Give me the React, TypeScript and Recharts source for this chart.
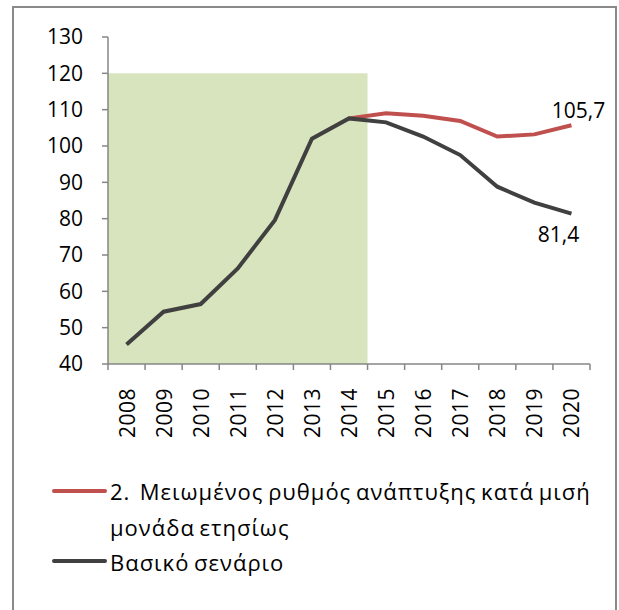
import React from "react";
import {
  LineChart,
  Line,
  XAxis,
  YAxis,
  ReferenceArea,
  Legend,
} from "recharts";

const years = ["2008", "2009", "2010", "2011", "2012", "2013", "2014", "2015", "2016", "2017", "2018", "2019", "2020"];
const baseScenario = [45.4, 54.4, 56.5, 66.3, 79.6, 102.0, 107.6, 106.5, 102.6, 97.5, 88.8, 84.4, 81.4];
const reducedGrowth = [null, null, null, null, null, null, 107.6, 109.0, 108.3, 106.9, 102.6, 103.2, 105.7];
const yTicks = [40, 50, 60, 70, 80, 90, 100, 110, 120, 130];

const reducedName = "2.  Μειωμένος ρυθμός ανάπτυξης κατά μισή μονάδα ετησίως";
const baseName = "Βασικό σενάριο";

const shadeStart = "2008";
const shadeEnd = "2014";
const shadeTop = 120;

const data = years.map((year, i) => ({
  year,
  base: baseScenario[i],
  reduced: reducedGrowth[i],
}));

const FONT = "'Open Sans', 'Noto Sans', sans-serif";
const AXIS_COLOR = "#868686";
const RED = "#c0504d";
const DARK = "#404040";
const GREEN = "#d7e4bd";
const X_TICK_SIZE = 6;
const X_TICK_MARGIN = 18;

const fmt = (v: number) => v.toFixed(1).replace(".", ",");

const XTick = (props: any) => {
  const { x, y, payload, index, visibleTicksCount } = props;
  const half = payload && typeof payload.offset === "number" ? payload.offset : 0;
  const axisY = y - X_TICK_SIZE - X_TICK_MARGIN;
  return (
    <g>
      <line x1={x - half} x2={x - half} y1={axisY} y2={axisY + X_TICK_SIZE} stroke={AXIS_COLOR} strokeWidth={1.5} />
      {index === visibleTicksCount - 1 && (
        <line x1={x + half} x2={x + half} y1={axisY} y2={axisY + X_TICK_SIZE} stroke={AXIS_COLOR} strokeWidth={1.5} />
      )}
      <text
        x={x}
        y={y}
        transform={`rotate(-90 ${x} ${y})`}
        textAnchor="end"
        dominantBaseline="central"
        fontFamily={FONT}
        fontSize={21}
        letterSpacing={0.5}
        fill="#000"
      >
        {payload.value}
      </text>
    </g>
  );
};

const makeEndLabel = (dx: number, dy: number) => (props: any) => {
  const { x, y, index, value } = props;
  if (index !== years.length - 1 || value == null) return null;
  return (
    <text
      x={x + dx}
      y={y + dy}
      textAnchor="middle"
      dominantBaseline="central"
      fontFamily={FONT}
      fontSize={21}
      fill="#000"
    >
      {fmt(Number(value))}
    </text>
  );
};

const LegendContent = (props: any) => {
  const payload = props.payload || [];
  const rows = [
    { top: 473, lineY: 491 },
    { top: 544, lineY: 561 },
  ];
  return (
    <div style={{ position: "relative", width: 619, height: 610 }}>
      {payload.map((entry: any, i: number) => {
        const r = rows[i] || rows[0];
        return (
          <React.Fragment key={entry.value}>
            <div
              style={{
                position: "absolute",
                left: 52,
                top: r.lineY - 2,
                width: 55,
                height: 4,
                background: entry.color,
                borderRadius: 2,
              }}
            />
            <div
              style={{
                position: "absolute",
                left: 110,
                top: r.top,
                width: 500,
                fontFamily: FONT,
                fontSize: 22,
                letterSpacing: "1px",
                wordSpacing: "-2px",
                lineHeight: "36px",
                color: "#000",
                whiteSpace: "pre-wrap",
              }}
            >
              {entry.value}
            </div>
          </React.Fragment>
        );
      })}
    </div>
  );
};

export default function App() {
  return (
    <div style={{ position: "absolute", left: 0, top: 0, width: 619, height: 610, overflow: "hidden", background: "#fff" }}>
      <div
        style={{
          position: "absolute",
          left: 12,
          top: 6,
          width: 601,
          height: 640,
          border: "2px solid #8a8a8a",
        }}
      />
      <div style={{ position: "absolute", left: 0, top: 0 }}>
        <LineChart width={619} height={610} data={data} margin={{ top: 37, right: 29, left: 0, bottom: 156 }}>
          <XAxis
            dataKey="year"
            type="category"
            scale="band"
            interval={0}
            height={90}
            tickSize={X_TICK_SIZE}
            tickMargin={X_TICK_MARGIN}
            tickLine={false}
            axisLine={{ stroke: AXIS_COLOR, strokeWidth: 1.5 }}
            tick={<XTick />}
          />
          <YAxis
            type="number"
            domain={[40, 130]}
            ticks={yTicks}
            interval={0}
            width={108}
            tickSize={6}
            tickMargin={19}
            axisLine={{ stroke: AXIS_COLOR, strokeWidth: 1.5 }}
            tickLine={{ stroke: AXIS_COLOR, strokeWidth: 1.5 }}
            tick={{ fontFamily: FONT, fontSize: 21, fill: "#000" }}
          />
          <ReferenceArea
            x1={shadeStart}
            x2={shadeEnd}
            y1={40}
            y2={shadeTop}
            fill={GREEN}
            fillOpacity={1}
            stroke="none"
            ifOverflow="visible"
          />
          <Line
            dataKey="reduced"
            name={reducedName}
            stroke={RED}
            strokeWidth={4}
            dot={false}
            activeDot={false}
            connectNulls={false}
            isAnimationActive={false}
            label={makeEndLabel(7, -15)}
          />
          <Line
            dataKey="base"
            name={baseName}
            stroke={DARK}
            strokeWidth={4}
            dot={false}
            activeDot={false}
            isAnimationActive={false}
            label={makeEndLabel(-13, 20)}
          />
          <Legend
            layout="horizontal"
            verticalAlign="middle"
            align="center"
            wrapperStyle={{ left: 0, top: 0, width: 619, height: 610, pointerEvents: "none" }}
            content={<LegendContent />}
          />
        </LineChart>
      </div>
    </div>
  );
}
